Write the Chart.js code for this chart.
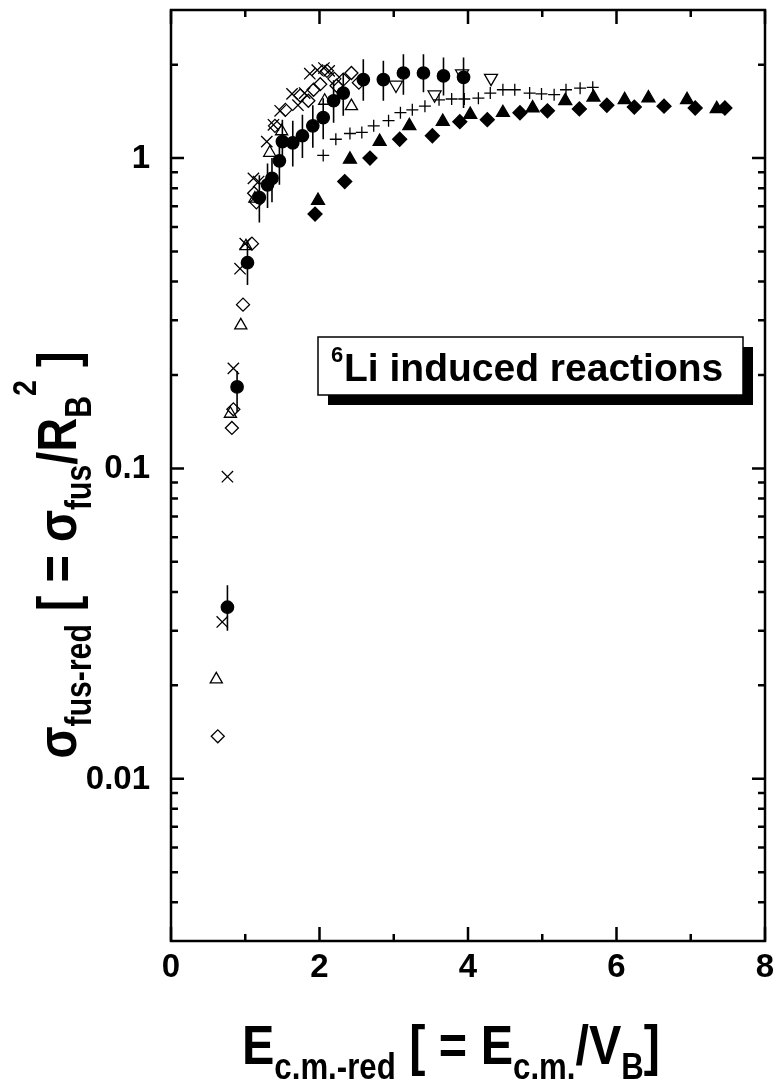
<!DOCTYPE html>
<html>
<head>
<meta charset="utf-8">
<script src="https://cdn.jsdelivr.net/npm/chart.js@4.4.0/dist/chart.umd.min.js"></script>
<style>
  html, body { margin: 0; padding: 0; background: #fff; }
  #wrap { width: 778px; height: 1084px; position: relative; }
</style>
</head>
<body>
<div id="wrap"><canvas id="chart"></canvas></div>
<script>
// filled circles (with vertical error bars)
const circX  = [0.76, 0.89, 1.03, 1.19, 1.30, 1.36, 1.46, 1.50, 1.64, 1.77, 1.91, 2.05, 2.19, 2.32, 2.59, 2.86, 3.13, 3.40, 3.67, 3.94];
const circY  = [0.0357, 0.183, 0.46, 0.746, 0.82, 0.86, 0.98, 1.13, 1.12, 1.18, 1.27, 1.35, 1.53, 1.62, 1.79, 1.79, 1.88, 1.88, 1.84, 1.82];
const circLo = [0.030, 0.152, 0.39, 0.62, 0.69, 0.72, 0.82, 0.95, 0.94, 1.00, 1.08, 1.15, 1.30, 1.37, 1.53, 1.53, 1.60, 1.63, 1.59, 1.45];
const circHi = [0.042, 0.206, 0.54, 0.88, 0.96, 1.00, 1.16, 1.33, 1.32, 1.38, 1.48, 1.56, 1.78, 1.88, 2.08, 2.06, 2.16, 2.16, 2.11, 2.11];

// crosses (x)
const crossX = [0.69, 0.76, 0.84, 0.93, 1.00, 1.11, 1.18, 1.29, 1.38, 1.47, 1.63, 1.71, 1.80, 1.87, 1.97, 2.06, 2.13];
const crossY = [0.032, 0.094, 0.21, 0.44, 0.53, 0.86, 0.84, 1.13, 1.28, 1.42, 1.61, 1.48, 1.62, 1.87, 1.92, 1.95, 1.91];

// open diamonds
const dOpenX = [0.63, 0.82, 0.84, 0.97, 1.09, 1.12, 1.15, 1.40, 1.54, 1.74, 1.85, 1.92, 2.01, 2.10, 2.20, 2.23, 2.32, 2.43, 2.53];
const dOpenY = [0.0137, 0.135, 0.155, 0.337, 0.53, 0.77, 0.72, 1.27, 1.43, 1.59, 1.53, 1.66, 1.73, 1.91, 1.80, 1.71, 1.79, 1.88, 1.75];

// open triangles (up)
const tOpenX = [0.61, 0.80, 0.94, 1.01, 1.13, 1.33, 1.49, 2.07, 2.43];
const tOpenY = [0.0209, 0.150, 0.289, 0.52, 0.74, 1.04, 1.22, 1.53, 1.47];

// open triangles (down)
const tDownX = [3.03, 3.55, 3.92, 4.31];
const tDownY = [1.72, 1.60, 1.87, 1.81];

// plus signs
const plusX = [2.05, 2.22, 2.41, 2.57, 2.73, 2.93, 3.09, 3.25, 3.42, 3.61, 3.78, 3.95, 4.14, 4.30, 4.47, 4.63, 4.83, 4.99, 5.16, 5.32, 5.51, 5.68];
const plusY = [1.02, 1.15, 1.20, 1.21, 1.27, 1.32, 1.40, 1.43, 1.47, 1.54, 1.55, 1.55, 1.56, 1.62, 1.66, 1.66, 1.62, 1.61, 1.60, 1.66, 1.68, 1.69];

// filled triangles
const tFillX = [1.98, 2.41, 2.81, 3.21, 3.66, 4.03, 4.47, 4.87, 5.31, 5.69, 6.11, 6.43, 6.95, 7.35];
const tFillY = [0.73, 0.99, 1.13, 1.27, 1.31, 1.38, 1.40, 1.45, 1.53, 1.57, 1.54, 1.56, 1.54, 1.44];

// filled diamonds
const dFillX = [1.94, 2.34, 2.68, 3.08, 3.52, 3.89, 4.26, 4.70, 5.07, 5.50, 5.87, 6.24, 6.64, 7.06, 7.46];
const dFillY = [0.66, 0.84, 1.00, 1.15, 1.18, 1.31, 1.33, 1.40, 1.42, 1.44, 1.48, 1.46, 1.47, 1.45, 1.45];

const xMajor = [0, 2, 4, 6, 8];
const xMinor = [1, 3, 5, 7];
const yMajor = [0.01, 0.1, 1];
const yLabels = ['0.01', '0.1', '1'];

const FONT = '"Liberation Sans", Arial, Helvetica, sans-serif';

function pts(xs, ys) {
  return xs.map((x, i) => ({ x: x, y: ys[i] }));
}

// draw a run of text pieces (normal / sub / superscript) squeezed to a given width
function drawRich(ctx, segs, cx, cy, width, rotate) {
  let total = 0;
  segs.forEach(s => {
    ctx.font = 'bold ' + s.size + 'px ' + FONT;
    s.w = ctx.measureText(s.t).width;
    total += s.w;
  });
  ctx.save();
  ctx.translate(cx, cy);
  if (rotate) ctx.rotate(-Math.PI / 2);
  ctx.scale(width / total, 1);
  ctx.fillStyle = '#000';
  ctx.textBaseline = 'alphabetic';
  ctx.textAlign = 'left';
  let pos = -total / 2;
  segs.forEach(s => {
    ctx.font = 'bold ' + s.size + 'px ' + FONT;
    ctx.fillText(s.t, pos, s.dy || 0);
    pos += s.w;
  });
  ctx.restore();
}

const errorBars = {
  id: 'errorBars',
  beforeDatasetsDraw(chart) {
    const { ctx, scales: { x, y } } = chart;
    ctx.save();
    ctx.strokeStyle = '#000';
    ctx.lineWidth = 1.6;
    ctx.beginPath();
    circX.forEach((v, i) => {
      const px = x.getPixelForValue(v);
      ctx.moveTo(px, y.getPixelForValue(circLo[i]));
      ctx.lineTo(px, y.getPixelForValue(circHi[i]));
    });
    ctx.stroke();
    ctx.restore();
  }
};

const frame = {
  id: 'frame',
  afterDraw(chart) {
    const { ctx, chartArea: a, scales: { x, y } } = chart;
    ctx.save();
    ctx.strokeStyle = '#000';
    ctx.lineWidth = 2.5;
    ctx.strokeRect(a.left, a.top, a.right - a.left, a.bottom - a.top);

    // inward ticks on all four sides
    ctx.beginPath();
    const xt = (v, len) => {
      const px = x.getPixelForValue(v);
      ctx.moveTo(px, a.bottom); ctx.lineTo(px, a.bottom - len);
      ctx.moveTo(px, a.top); ctx.lineTo(px, a.top + len);
    };
    const yt = (v, len) => {
      const py = y.getPixelForValue(v);
      ctx.moveTo(a.left, py); ctx.lineTo(a.left + len, py);
      ctx.moveTo(a.right, py); ctx.lineTo(a.right - len, py);
    };
    xMajor.forEach(v => xt(v, 14));
    xMinor.forEach(v => xt(v, 7));
    yMajor.forEach(v => yt(v, 13));
    [0.001, 0.01, 0.1, 1].forEach(d => {
      for (let k = 2; k <= 9; k++) {
        const v = d * k;
        if (v > 0.003 && v < 3) yt(v, 7);
      }
    });
    ctx.stroke();

    // tick labels
    ctx.fillStyle = '#000';
    ctx.font = 'bold 33px ' + FONT;
    ctx.textAlign = 'right';
    ctx.textBaseline = 'middle';
    yMajor.forEach((v, i) => ctx.fillText(yLabels[i], 150, y.getPixelForValue(v) + 1));
    ctx.textAlign = 'center';
    xMajor.forEach(v => ctx.fillText(String(v), x.getPixelForValue(v), 968));

    // axis titles
    drawRich(ctx, [
      { t: 'E', size: 56 },
      { t: 'c.m.-red', size: 36, dy: 15 },
      { t: ' [ = E', size: 56 },
      { t: 'c.m.', size: 36, dy: 15 },
      { t: '/V', size: 56 },
      { t: 'B', size: 36, dy: 15 },
      { t: ']', size: 56 }
    ], 451, 1064, 418, false);

    drawRich(ctx, [
      { t: 'σ', size: 56 },
      { t: 'fus-red', size: 36, dy: 15 },
      { t: ' [ = σ', size: 56 },
      { t: 'fus', size: 36, dy: 15 },
      { t: '/R', size: 56 },
      { t: 'B', size: 36, dy: 15 },
      { t: '2', size: 34, dy: -40 },
      { t: ' ]', size: 56 }
    ], 76, 555, 407, true);

    // label box with drop shadow
    ctx.fillStyle = '#000';
    ctx.fillRect(328, 347, 425, 58);
    ctx.fillStyle = '#fff';
    ctx.fillRect(318, 337, 425, 58);
    ctx.lineWidth = 1.5;
    ctx.strokeRect(318, 337, 425, 58);
    ctx.fillStyle = '#000';
    ctx.textAlign = 'left';
    ctx.textBaseline = 'alphabetic';
    ctx.font = 'bold 22px ' + FONT;
    ctx.fillText('6', 331, 362);
    ctx.font = 'bold 39px ' + FONT;
    ctx.fillText('Li induced reactions', 344, 381);
    ctx.restore();
  }
};

const base = { showLine: false, borderColor: '#000', borderWidth: 1.3 };

new Chart(document.getElementById('chart'), {
  type: 'scatter',
  data: {
    datasets: [
      { ...base, label: 'circles', data: pts(circX, circY), pointStyle: 'circle', pointRadius: 6.2, backgroundColor: '#000' },
      { ...base, label: 'crosses', data: pts(crossX, crossY), pointStyle: 'crossRot', pointRadius: 8, backgroundColor: 'rgba(0,0,0,0)' },
      { ...base, label: 'open diamonds', data: pts(dOpenX, dOpenY), pointStyle: 'rectRot', pointRadius: 6.5, backgroundColor: 'rgba(0,0,0,0)' },
      { ...base, label: 'open triangles', data: pts(tOpenX, tOpenY), pointStyle: 'triangle', pointRadius: 7, backgroundColor: 'rgba(0,0,0,0)' },
      { ...base, label: 'down triangles', data: pts(tDownX, tDownY), pointStyle: 'triangle', rotation: 180, pointRadius: 7.5, backgroundColor: 'rgba(0,0,0,0)' },
      { ...base, label: 'plus', data: pts(plusX, plusY), pointStyle: 'cross', pointRadius: 6, backgroundColor: 'rgba(0,0,0,0)' },
      { ...base, label: 'filled triangles', data: pts(tFillX, tFillY), pointStyle: 'triangle', pointRadius: 7.5, backgroundColor: '#000' },
      { ...base, label: 'filled diamonds', data: pts(dFillX, dFillY), pointStyle: 'rectRot', pointRadius: 7, backgroundColor: '#000' }
    ]
  },
  options: {
    responsive: true,
    maintainAspectRatio: false,
    animation: false,
    layout: { padding: { top: 10, right: 13, left: 0, bottom: 0 } },
    plugins: {
      legend: { display: false },
      tooltip: { enabled: false }
    },
    scales: {
      x: {
        type: 'linear',
        min: 0,
        max: 8,
        grid: { display: false },
        border: { display: false },
        ticks: { display: false },
        afterFit: s => { s.height = 143; }
      },
      y: {
        type: 'logarithmic',
        min: 0.003,
        max: 3,
        grid: { display: false },
        border: { display: false },
        ticks: { display: false },
        afterFit: s => { s.width = 171; }
      }
    }
  },
  plugins: [errorBars, frame]
});
</script>
</body>
</html>
